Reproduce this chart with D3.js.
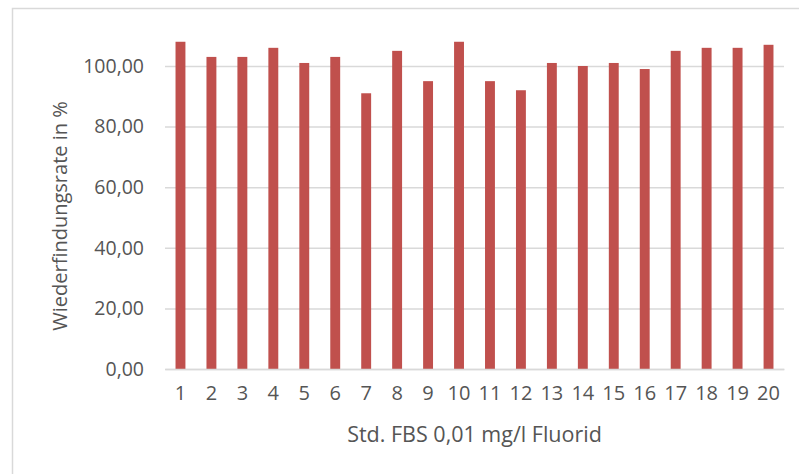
<!DOCTYPE html>
<html><head><meta charset="utf-8">
<script src="https://cdn.jsdelivr.net/npm/d3@7"></script>
<style>body{margin:0;background:#fff}svg{display:block}</style>
</head><body>
<svg id="c" width="799" height="474"></svg>
<script>
const categories = ["1","2","3","4","5","6","7","8","9","10","11","12","13","14","15","16","17","18","19","20"];
const values = [108,103,103,106,101,103,91,105,95,108,95,92,101,100,101,99,105,106,106,107];
const yTicks = [0,20,40,60,80,100];
const xTitle = "Std. FBS 0,01 mg/l Fluorid";
const yTitle = "Wiederfindungsrate in %";

const svg = d3.select("#c");
const W = 799, H = 474;
const m = {left:165, right:15, top:20, bottom:105};
const font = "'Open Sans', sans-serif";
const txt = "#555555";

svg.append("rect").attr("x",12.5).attr("y",8.5).attr("width",W).attr("height",H)
  .attr("fill","#fff").attr("stroke","#d9d9d9").attr("stroke-width",1.5);

const x = d3.scaleBand().domain(categories).range([m.left, W-m.right]).paddingInner(0.68).paddingOuter(0.34);
const y = d3.scaleLinear().domain([0,100]).range([369,66]);

const gy = svg.append("g").attr("transform",`translate(${m.left},0)`)
  .call(d3.axisLeft(y).tickValues(yTicks).tickSize(-(W-m.right-m.left)).tickPadding(21)
    .tickFormat(d => d3.format(".2f")(d).replace(".", ",")));
gy.select(".domain").remove();
gy.selectAll(".tick line").attr("stroke","#d9d9d9").attr("stroke-width",1.5);
gy.selectAll(".tick text").attr("fill",txt).style("font-family",font).style("font-size","19.5px");

svg.append("g").selectAll("rect").data(values).join("rect")
  .attr("x",(d,i)=>x(categories[i])).attr("width",x.bandwidth())
  .attr("y",d=>y(d)).attr("height",d=>y(0)-y(d))
  .attr("fill","#c0504d");

const gx = svg.append("g").attr("transform",`translate(0,${y(0)})`)
  .call(d3.axisBottom(x).tickSize(0).tickPadding(17));
gx.select(".domain").attr("stroke","#d9d9d9").attr("stroke-width",1.5);
gx.selectAll(".tick text").attr("fill",txt).style("font-family",font).style("font-size","20px");

svg.append("text").attr("x",(m.left+W-m.right)/2).attr("y",442).attr("text-anchor","middle")
  .attr("fill",txt).style("font-family",font).style("font-size","21.5px").text(xTitle);

svg.append("text").attr("transform",`translate(67,216) rotate(-90)`).attr("text-anchor","middle")
  .attr("fill",txt).style("font-family",font).style("font-size","20px").text(yTitle);
</script>
</body></html>
